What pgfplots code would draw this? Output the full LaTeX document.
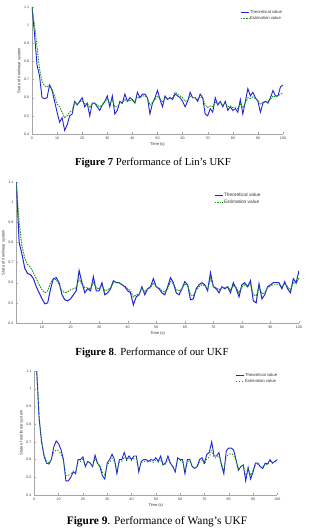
\documentclass[border=0pt]{standalone}
\usepackage{fontspec}
\setmainfont{Liberation Serif}
\setsansfont{Liberation Sans}
\usepackage{pgfplots}
\usepackage{pgfplotstable}
\pgfplotsset{compat=1.18}

\definecolor{theocol}{RGB}{35,35,215}
\definecolor{esticol}{RGB}{20,150,20}

% --- Lin's UKF ---
\pgfplotstableread{
t v
0 1.10
1 0.95
2 0.78
3 0.72
4 0.60
5 0.595
6 0.60
7 0.67
8 0.64
9 0.58
10 0.52
11 0.465
12 0.49
13 0.42
14 0.45
15 0.50
16 0.51
17 0.58
18 0.56
19 0.58
20 0.60
21 0.55
22 0.57
23 0.50
24 0.57
25 0.57
26 0.55
27 0.53
28 0.56
29 0.58
30 0.61
31 0.55
32 0.61
33 0.51
34 0.53
35 0.58
36 0.57
37 0.62
38 0.58
39 0.60
40 0.59
41 0.57
42 0.63
43 0.60
44 0.62
45 0.62
46 0.60
47 0.51
48 0.57
49 0.60
50 0.64
51 0.59
52 0.55
53 0.61
54 0.59
55 0.60
56 0.59
57 0.62
58 0.61
59 0.60
60 0.58
61 0.55
62 0.58
63 0.63
64 0.60
65 0.60
66 0.58
67 0.62
68 0.60
69 0.51
70 0.50
71 0.54
72 0.52
73 0.60
74 0.56
75 0.58
76 0.55
77 0.58
78 0.53
79 0.55
80 0.53
81 0.54
82 0.52
83 0.59
84 0.51
85 0.58
86 0.65
87 0.61
88 0.63
89 0.60
90 0.58
91 0.52
92 0.57
93 0.58
94 0.57
95 0.60
96 0.64
97 0.61
98 0.61
99 0.66
100 0.67
}\linTheo

\pgfplotstableread{
t v
0 1.10
1 1.00
2 0.88
3 0.76
4 0.69
5 0.665
6 0.66
7 0.67
8 0.645
9 0.61
10 0.565
11 0.55
12 0.52
13 0.49
14 0.50
15 0.52
16 0.53
17 0.575
18 0.565
19 0.575
20 0.585
21 0.565
22 0.57
23 0.545
24 0.565
25 0.57
26 0.56
27 0.55
28 0.56
29 0.575
30 0.595
31 0.57
32 0.59
33 0.55
34 0.55
35 0.57
36 0.57
37 0.59
38 0.58
39 0.585
40 0.585
41 0.575
42 0.605
43 0.60
44 0.61
45 0.61
46 0.60
47 0.56
48 0.575
49 0.59
50 0.61
51 0.595
52 0.575
53 0.595
54 0.595
55 0.60
56 0.60
57 0.63
58 0.62
59 0.61
60 0.60
61 0.58
62 0.585
63 0.61
64 0.60
65 0.60
66 0.59
67 0.605
68 0.60
69 0.56
70 0.545
71 0.555
72 0.55
73 0.575
74 0.565
75 0.575
76 0.56
77 0.57
78 0.55
79 0.555
80 0.545
81 0.545
82 0.54
83 0.565
84 0.545
85 0.57
86 0.60
87 0.595
88 0.605
89 0.595
90 0.585
91 0.565
92 0.575
93 0.58
94 0.58
95 0.59
96 0.61
97 0.605
98 0.61
99 0.62
100 0.625
}\linEst

% --- our UKF ---
\pgfplotstableread{
t v
1 1.10
2 0.80
3 0.74
4 0.67
5 0.645
6 0.64
7 0.62
8 0.58
9 0.55
10 0.52
11 0.495
12 0.50
13 0.57
14 0.62
15 0.625
16 0.60
17 0.54
18 0.515
19 0.51
20 0.52
21 0.54
22 0.56
23 0.66
24 0.60
25 0.55
26 0.57
27 0.56
28 0.63
29 0.56
30 0.56
31 0.60
32 0.54
33 0.55
34 0.57
35 0.61
36 0.60
37 0.60
38 0.59
39 0.58
40 0.56
41 0.55
42 0.49
43 0.53
44 0.54
45 0.58
46 0.54
47 0.57
48 0.58
49 0.62
50 0.58
51 0.57
52 0.55
53 0.54
54 0.58
55 0.625
56 0.60
57 0.55
58 0.54
59 0.57
60 0.605
61 0.59
62 0.515
63 0.52
64 0.57
65 0.59
66 0.60
67 0.59
68 0.56
69 0.65
70 0.58
71 0.57
72 0.55
73 0.58
74 0.57
75 0.58
76 0.55
77 0.60
78 0.57
79 0.53
80 0.59
81 0.60
82 0.58
83 0.61
84 0.51
85 0.50
86 0.595
87 0.52
88 0.54
89 0.58
90 0.59
91 0.60
92 0.60
93 0.60
94 0.57
95 0.605
96 0.57
97 0.55
98 0.62
99 0.60
100 0.66
}\ourTheo

\pgfplotstableread{
t v
1 1.10
2 0.90
3 0.78
4 0.72
5 0.69
6 0.675
7 0.65
8 0.62
9 0.59
10 0.565
11 0.55
12 0.56
13 0.60
14 0.62
15 0.615
16 0.59
17 0.56
18 0.55
19 0.555
20 0.565
21 0.57
22 0.575
23 0.62
24 0.59
25 0.575
26 0.575
27 0.57
28 0.60
29 0.575
30 0.57
31 0.585
32 0.56
33 0.565
34 0.575
35 0.60
36 0.60
37 0.60
38 0.59
39 0.585
40 0.57
41 0.56
42 0.53
43 0.54
44 0.545
45 0.57
46 0.555
47 0.57
48 0.575
49 0.60
50 0.58
51 0.575
52 0.56
53 0.555
54 0.57
55 0.605
56 0.595
57 0.565
58 0.56
59 0.57
60 0.595
61 0.585
62 0.54
63 0.535
64 0.565
65 0.58
66 0.59
67 0.585
68 0.57
69 0.62
70 0.585
71 0.575
72 0.565
73 0.575
74 0.575
75 0.58
76 0.565
77 0.585
78 0.575
79 0.55
80 0.58
81 0.59
82 0.58
83 0.595
84 0.54
85 0.535
86 0.575
87 0.545
88 0.55
89 0.575
90 0.585
91 0.59
92 0.59
93 0.59
94 0.58
95 0.595
96 0.58
97 0.565
98 0.60
99 0.595
100 0.625
}\ourEst

% --- Wang's UKF ---
\pgfplotstableread{
t v
1 1.10
2 0.83
3 0.70
4 0.62
5 0.58
6 0.575
7 0.60
8 0.67
9 0.705
10 0.69
11 0.655
12 0.60
13 0.48
14 0.48
15 0.50
16 0.53
17 0.52
18 0.60
19 0.60
20 0.615
21 0.56
22 0.59
23 0.58
24 0.56
25 0.625
26 0.58
27 0.56
28 0.51
29 0.49
30 0.58
31 0.60
32 0.63
33 0.60
34 0.52
35 0.60
36 0.60
37 0.64
38 0.60
39 0.62
40 0.60
41 0.62
42 0.62
43 0.53
44 0.59
45 0.60
46 0.60
47 0.59
48 0.60
49 0.595
50 0.61
51 0.59
52 0.62
53 0.57
54 0.58
55 0.62
56 0.58
57 0.56
58 0.53
59 0.61
60 0.60
61 0.60
62 0.52
63 0.60
64 0.60
65 0.56
66 0.55
67 0.56
68 0.60
69 0.61
70 0.58
71 0.63
72 0.64
73 0.70
74 0.62
75 0.62
76 0.64
77 0.57
78 0.52
79 0.65
80 0.665
81 0.665
82 0.655
83 0.60
84 0.54
85 0.56
86 0.57
87 0.48
88 0.555
89 0.49
90 0.53
91 0.58
92 0.58
93 0.56
94 0.55
95 0.58
96 0.575
97 0.60
98 0.58
99 0.59
100 0.60
}\wangTheo

\pgfplotstableread{
t v
1 1.10
2 0.84
3 0.70
4 0.63
5 0.59
6 0.58
7 0.60
8 0.64
9 0.655
10 0.65
11 0.63
12 0.59
13 0.51
14 0.51
15 0.52
16 0.535
17 0.53
18 0.585
19 0.59
20 0.60
21 0.57
22 0.585
23 0.58
24 0.565
25 0.605
26 0.58
27 0.565
28 0.53
29 0.515
30 0.57
31 0.585
32 0.605
33 0.59
34 0.54
35 0.585
36 0.59
37 0.615
38 0.595
39 0.605
40 0.595
41 0.605
42 0.605
43 0.545
44 0.58
45 0.59
46 0.59
47 0.585
48 0.59
49 0.585
50 0.595
51 0.585
52 0.60
53 0.57
54 0.575
55 0.60
56 0.575
57 0.565
58 0.545
59 0.595
60 0.595
61 0.59
62 0.54
63 0.59
64 0.59
65 0.56
66 0.555
67 0.56
68 0.585
69 0.595
70 0.575
71 0.605
72 0.615
73 0.655
74 0.61
75 0.61
76 0.62
77 0.575
78 0.545
79 0.615
80 0.63
81 0.635
82 0.625
83 0.59
84 0.55
85 0.56
86 0.565
87 0.51
88 0.55
89 0.51
90 0.54
91 0.57
92 0.575
93 0.56
94 0.555
95 0.575
96 0.57
97 0.59
98 0.58
99 0.585
100 0.595
}\wangEst

\pgfplotsset{
  ukf/.style={
    scale only axis,
    axis lines*=left,
    axis line style={gray!70, line width=0.4pt},
    every tick/.style={gray!70, line width=0.3pt},
    tick align=inside,
    major tick length=1.6pt,
    ymin=0.4, ymax=1.1,
    ytick={0.4,0.5,0.6,0.7,0.8,0.9,1,1.1},
    xmax=100,
    /pgf/number format/assume math mode=true,
    tick label style={font=\sffamily\fontsize{3.6}{4}\selectfont, text=black!75},
    xticklabel style={yshift=0.6pt},
    yticklabel style={xshift=0.6pt},
    label style={font=\sffamily\fontsize{4}{4.5}\selectfont, text=black!80},
    xlabel={Time (s)},
    ylabel={State of nonlinear system},
    xlabel style={yshift=4pt},
    ylabel style={yshift=-4pt},
    legend cell align=left,
    legend style={draw=none, fill=none, inner sep=0pt,
      font=\sffamily\fontsize{4.2}{4.7}\selectfont, text=black!80,
      nodes={inner sep=0.9pt}, anchor=north west},
    legend image code/.code={\draw[#1] (0pt,0pt) -- (8pt,0pt);},
  },
  theoline/.style={theocol, line width=0.9pt},
  estline/.style={esticol, line width=0.8pt, dash pattern=on 1.6pt off 1pt},
}

\begin{document}
\begin{tikzpicture}[x=1pt,y=1pt]
\useasboundingbox (0,0) rectangle (309,530);
\fill[white] (0,0) rectangle (309,530);

% Lin's UKF
\begin{axis}[ukf,
  at={(32pt,396pt)}, anchor=south west,
  width=251pt, height=127pt,
  xmin=0, xtick={0,10,...,100},
  legend style={at={(0.829,0.985)}}]
\addplot[theoline] table[x=t,y=v] {\linTheo};
\addplot[estline] table[x=t,y=v] {\linEst};
\legend{Theoretical value, Estimation value}
\end{axis}
\node[font=\fontsize{10.7}{12}\selectfont] at (153,367) {\textbf{Figure 7} Performance of Lin’s UKF};

% our UKF
\begin{axis}[ukf,
  at={(16.3pt,207pt)}, anchor=south west,
  width=282.7pt, height=141pt,
  xmin=1, xtick={10,20,...,100},
  legend style={at={(0.699,0.93)}, font=\sffamily\fontsize{4.8}{5.2}\selectfont}]
\addplot[theoline, line width=1pt] table[x=t,y=v] {\ourTheo};
\addplot[estline, line width=0.9pt] table[x=t,y=v] {\ourEst};
\legend{Theoretical value, Estimation value}
\end{axis}
\node[font=\fontsize{10.8}{12}\selectfont] at (152,177) {\textbf{Figure 8}. Performance of our UKF};

% Wang's UKF
\begin{axis}[ukf,
  at={(34.3pt,35pt)}, anchor=south west,
  width=243pt, height=124pt,
  xmin=0, xtick={0,10,...,100},
  legend style={at={(0.826,0.99)}}]
\addplot[theoline] table[x=t,y=v] {\wangTheo};
\addplot[esticol, line width=1pt, dash pattern=on 1pt off 2pt] table[x=t,y=v] {\wangEst};
\legend{Theoretical value, Estimation value}
\end{axis}
\node[font=\fontsize{11.4}{13}\selectfont] at (157,8) {\textbf{Figure 9}. Performance of Wang’s UKF};
\end{tikzpicture}
\end{document}
